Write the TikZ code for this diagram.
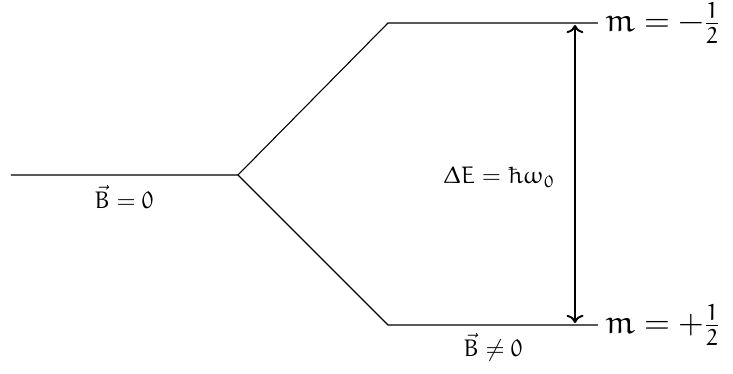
\documentclass[tikz,border=0pt]{standalone}
\usepackage{euler}
\usetikzlibrary{arrows.meta}
\begin{document}
\begin{tikzpicture}[x=0.01463cm,y=-0.01463cm,
  level/.style={line width=0.45pt},
  gap/.style={thick,<->},
  lbl/.style={inner sep=3pt},
  mlbl/.style={inner sep=1pt,font=\fontsize{13.6}{16}\selectfont,anchor=west}]
\useasboundingbox (0,0) rectangle (733,374);
\coordinate (l0) at (11,175);
\coordinate (s) at (238,175);
\coordinate (u0) at (388,23);
\coordinate (u1) at (598,23);
\coordinate (d0) at (388,325);
\coordinate (d1) at (598,325);
\coordinate (at) at (575,25);
\coordinate (ab) at (575,323);
\draw[level] (l0) -- (s) -- (u0) -- (u1);
\draw[level] (s) -- (d0) -- (d1);
\draw[gap] (at) -- (ab);
\node[mlbl] (mu) at (602,23) {$m=-\frac{1}{2}$};
\node[mlbl] (md) at (602,325) {$m=+\frac{1}{2}$};
\node[lbl] (b0) at (124,197) {$\vec{B}=0$};
\node[lbl] (b1) at (493,347) {$\vec{B}\neq0$};
\node[lbl,anchor=east] (de) at (563,177) {$\Delta E=\hbar\omega_0$};
\end{tikzpicture}
\end{document}
